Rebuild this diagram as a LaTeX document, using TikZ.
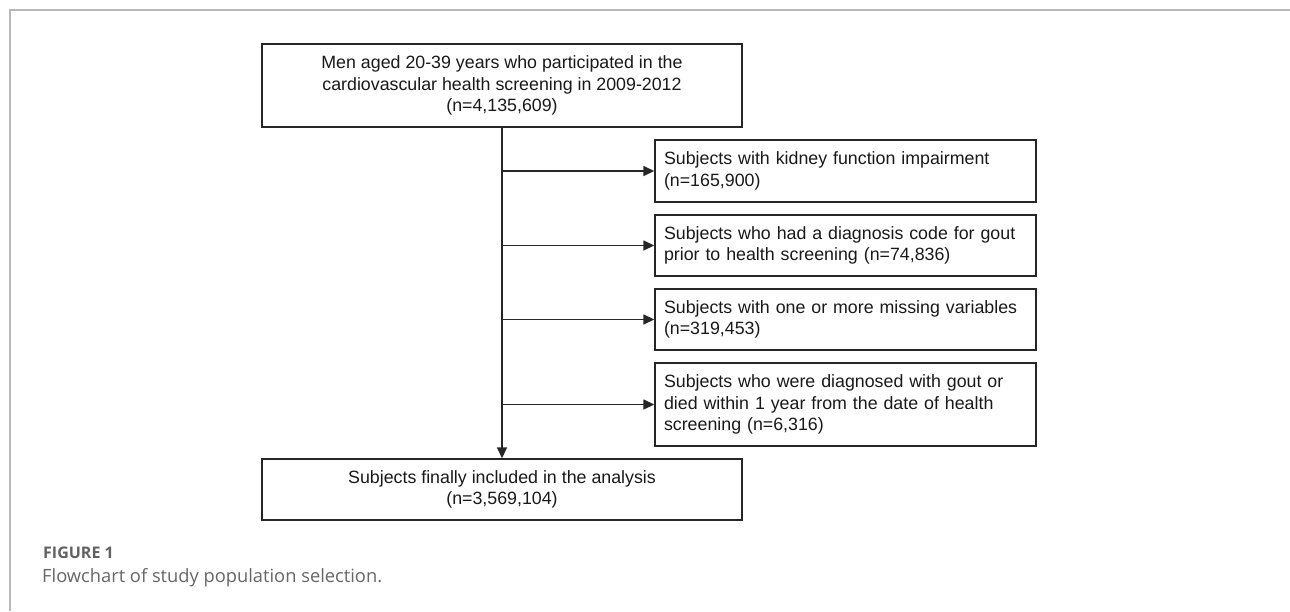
\documentclass[tikz,border=0pt]{standalone}
\usepackage{fontspec}
\setmainfont{Liberation Sans}
\newfontfamily\capfont{Open Sans}
\usetikzlibrary{arrows.meta}
\begin{document}
\begin{tikzpicture}[x=1pt,y=-1pt,
  box/.style={draw=black!85, line width=1.4pt, rectangle, inner sep=0pt,
    font=\fontsize{17.8}{21.7}\selectfont, text=black!90},
  mainbox/.style={box, minimum width=480pt, align=center},
  sidebox/.style={box, minimum width=381pt, text width=363pt, align=left, inner xsep=9pt},
  conn/.style={draw=black!85, line width=1.5pt, -{Triangle[length=11pt,width=10pt]}},
  frameline/.style={draw=black!28, line width=1.5pt}
]
\useasboundingbox (0,0) rectangle (1290,611);
\draw[frameline] (10,611) -- (10,10) -- (1290,10);

\node[mainbox, minimum height=83pt] (top) at (502,85.5)
  {Men aged 20-39 years who participated in the\\cardiovascular health screening in 2009-2012\\(n=4,135,609)};
\node[sidebox, minimum height=62pt] (e1) at (845.5,171)
  {Subjects with kidney function impairment\\(n=165,900)};
\node[sidebox, minimum height=61pt] (e2) at (845.5,245.5)
  {Subjects who had a diagnosis code for gout\\prior to health screening (n=74,836)};
\node[sidebox, minimum height=61pt] (e3) at (845.5,319.5)
  {Subjects with one or more missing variables\\(n=319,453)};
\node[sidebox, minimum height=83pt] (e4) at (845.5,404.5)
  {Subjects who were diagnosed with gout or\\died within 1 year from the date of health\\screening (n=6,316)};
\node[mainbox, minimum height=61pt] (bot) at (502,489.5)
  {Subjects finally included in the analysis\\(n=3,569,104)};

\draw[conn] (top.south) -- (bot.north);
\foreach \n in {e1,e2,e3,e4}{
  \coordinate (j\n) at (top.south |- \n.west);
  \draw[conn] (j\n) -- (\n.west);
}

\node[anchor=west, inner sep=0pt, font=\capfont\bfseries\fontsize{16}{18}\selectfont, text=black!62] (fig) at (43,553) {FIGURE 1};
\node[anchor=west, inner sep=0pt, font=\capfont\fontsize{18.3}{21}\selectfont, text=black!60] (cap) at (42,578) {Flowchart of study population selection.};
\end{tikzpicture}
\end{document}
